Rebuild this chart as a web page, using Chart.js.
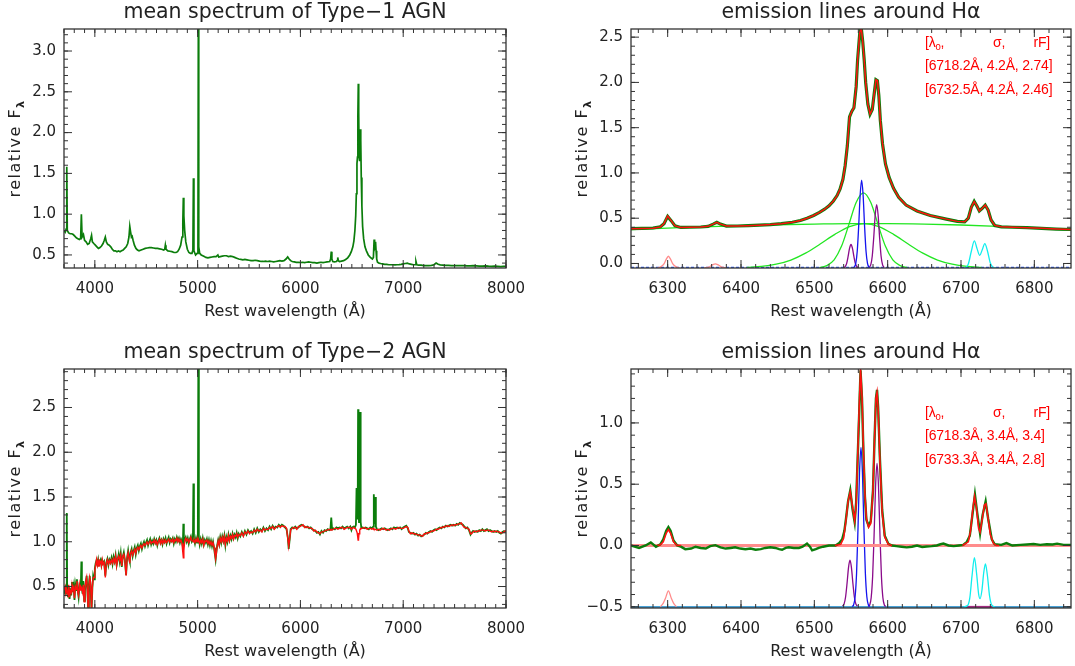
<!DOCTYPE html>
<html>
<head>
<meta charset="utf-8">
<script src="https://cdn.jsdelivr.net/npm/chart.js@4.4.1/dist/chart.umd.min.js"></script>
<style>
  body { margin: 0; background: #fff; }
  #wrap { position: relative; width: 1075px; height: 666px; }
  canvas { position: absolute; }
</style>
</head>
<body>
<div id="wrap">
  <canvas id="type1" width="537" height="335" style="left:0;top:0"></canvas>
  <canvas id="ha1" width="538" height="335" style="left:537px;top:0"></canvas>
  <canvas id="type2" width="537" height="331" style="left:0;top:335px"></canvas>
  <canvas id="ha2" width="538" height="331" style="left:537px;top:335px"></canvas>
</div>
<script>
// ---- axis ticks ----
const wideTicks = [4000, 5000, 6000, 7000, 8000];
const haTicks = [6300, 6400, 6500, 6600, 6700, 6800];
const type1YTicks = [0.5, 1.0, 1.5, 2.0, 2.5, 3.0];
const type2YTicks = [0.5, 1.0, 1.5, 2.0, 2.5];
const ha1YTicks = [0.0, 0.5, 1.0, 1.5, 2.0, 2.5];
const ha2YTicks = [-0.5, 0.0, 0.5, 1.0];

// ---- fitted [SII] doublet parameters ----
const sii1 = [["6718.2Å", "4.2Å", "2.74"], ["6732.5Å", "4.2Å", "2.46"]];
const sii2 = [["6718.3Å", "3.4Å", "3.4"], ["6733.3Å", "3.4Å", "2.8"]];

// ---- Type-1 mean spectrum [wavelength, flux] ----
const type1Mean = [
  [3700,0.80],[3712,0.78],[3722,0.82],[3727,1.58],[3732,0.80],[3745,0.77],[3760,0.76],[3775,0.76],
  [3790,0.75],[3805,0.73],[3820,0.71],[3835,0.70],[3850,0.69],[3862,0.70],[3869,1.00],[3876,0.72],
  [3889,0.75],[3900,0.68],[3915,0.66],[3930,0.63],[3945,0.64],[3960,0.70],[3968,0.74],[3976,0.66],
  [3990,0.64],[4005,0.62],[4020,0.60],[4035,0.58],[4050,0.59],[4065,0.61],[4080,0.64],[4092,0.68],
  [4102,0.72],[4112,0.66],[4125,0.63],[4140,0.62],[4155,0.60],[4170,0.57],[4185,0.55],[4200,0.55],
  [4215,0.54],[4230,0.55],[4245,0.54],[4260,0.55],[4275,0.56],[4290,0.58],[4305,0.60],[4320,0.64],
  [4332,0.72],[4340,0.85],[4348,0.78],[4356,0.72],[4363,0.73],[4372,0.68],[4385,0.62],[4400,0.58],
  [4415,0.56],[4430,0.55],[4450,0.56],[4470,0.57],[4490,0.58],[4510,0.585],[4530,0.59],[4550,0.59],
  [4570,0.585],[4590,0.58],[4610,0.58],[4630,0.575],[4650,0.57],[4670,0.56],[4680,0.57],[4686,0.62],
  [4692,0.57],[4710,0.55],[4730,0.545],[4750,0.54],[4770,0.53],[4790,0.53],[4805,0.54],[4820,0.57],
  [4835,0.62],[4848,0.72],[4856,0.90],[4861,1.20],[4866,0.98],[4874,0.80],[4885,0.66],[4900,0.57],
  [4915,0.53],[4930,0.52],[4945,0.52],[4954,0.56],[4959,1.44],[4964,0.55],[4980,0.50],[4995,0.52],
  [5003,0.60],[5007,3.40],[5011,0.60],[5020,0.52],[5035,0.50],[5050,0.49],[5065,0.48],[5080,0.47],
  [5100,0.465],[5120,0.47],[5140,0.475],[5160,0.48],[5180,0.48],[5197,0.50],[5205,0.475],[5220,0.48],
  [5240,0.485],[5260,0.49],[5280,0.49],[5300,0.48],[5320,0.485],[5340,0.48],[5360,0.47],[5380,0.46],
  [5400,0.45],[5420,0.445],[5440,0.44],[5460,0.445],[5480,0.44],[5500,0.435],[5520,0.43],[5540,0.43],
  [5560,0.435],[5580,0.43],[5600,0.425],[5620,0.42],[5640,0.42],[5660,0.425],[5680,0.42],[5700,0.425],
  [5720,0.42],[5740,0.415],[5760,0.42],[5780,0.425],[5800,0.43],[5820,0.425],[5840,0.43],[5860,0.45],
  [5876,0.475],[5890,0.45],[5905,0.43],[5920,0.42],[5940,0.415],[5960,0.41],[5980,0.41],[6000,0.405],
  [6020,0.41],[6040,0.405],[6060,0.41],[6080,0.415],[6100,0.41],[6120,0.405],[6140,0.405],[6160,0.40],
  [6180,0.405],[6200,0.41],[6220,0.405],[6240,0.41],[6260,0.415],[6285,0.42],[6294,0.45],[6300,0.54],
  [6306,0.45],[6315,0.42],[6330,0.415],[6350,0.42],[6357,0.43],[6363,0.47],[6369,0.43],[6380,0.42],
  [6400,0.425],[6420,0.43],[6440,0.445],[6460,0.465],[6480,0.50],[6495,0.54],[6510,0.60],[6520,0.67],
  [6530,0.80],[6538,0.98],[6544,1.25],[6550,1.62],[6555,1.70],[6559,2.20],[6563,2.60],[6567,2.25],
  [6571,1.70],[6574,1.65],[6578,1.85],[6583,2.04],[6587,1.90],[6592,1.45],[6598,1.10],[6605,0.85],
  [6615,0.70],[6628,0.60],[6642,0.55],[6660,0.50],[6680,0.47],[6700,0.45],[6710,0.47],[6717,0.69],
  [6722,0.58],[6727,0.60],[6731,0.66],[6736,0.55],[6742,0.45],[6750,0.41],[6765,0.40],[6780,0.395],
  [6800,0.39],[6820,0.385],[6840,0.385],[6860,0.38],[6880,0.38],[6900,0.38],[6920,0.378],[6940,0.38],
  [6960,0.382],[6980,0.385],[7000,0.39],[7020,0.395],[7040,0.40],[7060,0.39],[7080,0.385],[7100,0.38],
  [7116,0.38],[7124,0.42],[7132,0.38],[7150,0.375],[7175,0.375],[7200,0.37],[7225,0.37],[7250,0.37],
  [7275,0.372],[7300,0.38],[7320,0.40],[7340,0.385],[7360,0.378],[7385,0.375],[7410,0.372],[7440,0.372],
  [7470,0.37],[7500,0.37],[7530,0.368],[7560,0.37],[7590,0.368],[7620,0.365],[7650,0.366],[7680,0.368],
  [7710,0.365],[7740,0.362],[7770,0.363],[7800,0.365],[7830,0.362],[7860,0.36],[7890,0.362],[7920,0.36],
  [7950,0.358],[7975,0.36],[8000,0.36]
];

// ---- Type-2 mean spectrum [wavelength, observed, stellar model] ----
const type2Mean = [
  [3700,0.50,0.46],[3710,0.42,0.50],[3718,0.52,0.44],[3724,0.48,0.47],[3727,1.32,0.45],[3731,0.45,0.42],
  [3738,0.38,0.40],[3746,0.50,0.52],[3754,0.36,0.38],[3762,0.48,0.45],[3770,0.40,0.43],[3778,0.55,0.52],
  [3786,0.44,0.46],[3794,0.50,0.48],[3802,0.35,0.37],[3810,0.52,0.50],[3818,0.46,0.47],[3826,0.58,0.56],
  [3834,0.45,0.44],[3842,0.38,0.40],[3850,0.50,0.52],[3858,0.47,0.46],[3864,0.52,0.50],[3869,0.78,0.49],
  [3874,0.50,0.48],[3880,0.42,0.44],[3888,0.56,0.52],[3896,0.34,0.33],[3904,0.45,0.48],[3912,0.55,0.56],
  [3920,0.62,0.60],[3928,0.45,0.44],[3934,0.26,0.27],[3942,0.52,0.50],[3950,0.62,0.60],[3958,0.50,0.55],
  [3968,0.22,0.24],[3976,0.48,0.50],[3984,0.62,0.60],[3992,0.58,0.60],[4000,0.70,0.68],[4008,0.76,0.74],
  [4016,0.79,0.80],[4024,0.75,0.74],[4032,0.80,0.79],[4040,0.73,0.72],[4048,0.78,0.79],[4056,0.80,0.78],
  [4064,0.74,0.73],[4072,0.79,0.80],[4080,0.76,0.75],[4090,0.78,0.77],[4102,0.62,0.60],[4112,0.77,0.76],
  [4122,0.81,0.80],[4132,0.74,0.75],[4142,0.80,0.79],[4152,0.77,0.76],[4162,0.82,0.80],[4172,0.75,0.76],
  [4182,0.83,0.81],[4192,0.78,0.77],[4202,0.85,0.84],[4212,0.74,0.73],[4222,0.80,0.81],[4232,0.86,0.84],
  [4242,0.78,0.79],[4252,0.87,0.85],[4262,0.72,0.73],[4272,0.83,0.84],[4282,0.88,0.86],[4292,0.80,0.79],
  [4304,0.63,0.62],[4314,0.82,0.83],[4324,0.90,0.88],[4334,0.81,0.80],[4340,0.78,0.76],[4348,0.88,0.87],
  [4358,0.92,0.90],[4368,0.84,0.85],[4378,0.90,0.89],[4388,0.94,0.92],[4398,0.86,0.87],[4408,0.93,0.92],
  [4418,0.96,0.94],[4428,0.90,0.91],[4438,0.95,0.94],[4448,0.98,0.96],[4458,0.92,0.93],[4468,0.97,0.96],
  [4478,1.00,0.98],[4488,0.95,0.96],[4498,0.99,0.98],[4508,1.02,1.00],[4518,0.96,0.97],[4528,1.00,0.99],
  [4538,1.03,1.01],[4548,0.97,0.98],[4558,1.01,1.00],[4568,0.98,0.99],[4578,1.03,1.02],[4588,0.99,0.98],
  [4598,1.02,1.01],[4608,0.96,0.97],[4618,1.01,1.00],[4628,1.04,1.03],[4638,0.99,0.98],[4648,1.02,1.02],
  [4658,0.97,0.98],[4668,1.03,1.02],[4678,1.00,0.99],[4688,1.04,1.02],[4698,0.98,0.99],[4708,1.02,1.01],
  [4718,1.05,1.03],[4728,0.99,1.00],[4738,1.03,1.02],[4748,1.01,1.00],[4758,1.04,1.03],[4768,0.98,0.99],
  [4778,1.03,1.02],[4788,1.00,1.01],[4798,1.05,1.04],[4808,1.01,1.00],[4818,1.04,1.03],[4828,0.99,1.00],
  [4838,1.03,1.02],[4848,1.00,0.98],[4856,0.95,0.88],[4861,1.20,0.82],[4866,0.95,0.90],[4874,1.02,1.01],
  [4884,1.05,1.04],[4894,1.00,1.01],[4904,1.04,1.03],[4914,0.98,0.99],[4924,1.03,1.02],[4934,1.06,1.05],
  [4944,1.00,1.01],[4954,1.02,1.01],[4959,1.65,1.00],[4964,1.03,1.02],[4974,0.98,0.99],[4984,1.04,1.03],
  [4994,0.99,1.00],[5002,1.05,1.02],[5007,3.10,1.00],[5012,1.04,1.01],[5020,0.97,0.98],[5030,1.03,1.02],
  [5040,0.98,0.99],[5050,1.04,1.03],[5060,0.97,0.96],[5070,1.02,1.01],[5080,0.99,1.00],[5090,1.03,1.02],
  [5100,0.97,0.98],[5110,1.02,1.01],[5120,0.96,0.97],[5130,1.01,1.00],[5140,0.95,0.96],[5150,1.00,0.99],
  [5160,0.93,0.94],[5168,0.86,0.87],[5175,0.80,0.81],[5182,0.88,0.87],[5190,0.96,0.95],[5200,1.02,1.01],
  [5210,0.97,0.96],[5220,1.05,1.04],[5230,0.99,1.00],[5240,1.06,1.05],[5250,1.01,1.00],[5260,1.07,1.06],
  [5270,0.96,0.97],[5280,1.05,1.04],[5290,1.00,1.01],[5300,1.08,1.07],[5310,1.02,1.01],[5320,1.07,1.06],
  [5330,1.03,1.04],[5340,1.09,1.08],[5350,1.04,1.03],[5360,1.08,1.07],[5370,1.05,1.06],[5380,1.10,1.09],
  [5390,1.04,1.05],[5400,1.09,1.08],[5415,1.06,1.07],[5430,1.11,1.10],[5445,1.07,1.06],[5460,1.12,1.11],
  [5475,1.08,1.09],[5490,1.13,1.12],[5505,1.10,1.09],[5520,1.12,1.11],[5535,1.09,1.10],[5550,1.14,1.13],
  [5565,1.10,1.11],[5580,1.15,1.14],[5595,1.11,1.12],[5610,1.14,1.13],[5625,1.12,1.11],[5640,1.16,1.15],
  [5655,1.12,1.13],[5670,1.15,1.14],[5685,1.13,1.14],[5700,1.17,1.16],[5715,1.14,1.15],[5730,1.18,1.17],
  [5745,1.15,1.14],[5760,1.17,1.16],[5775,1.16,1.17],[5790,1.19,1.18],[5805,1.17,1.16],[5820,1.19,1.18],
  [5835,1.18,1.17],[5850,1.16,1.17],[5865,1.14,1.15],[5877,1.05,1.04],[5886,0.92,0.95],[5895,1.02,1.03],
  [5905,1.14,1.13],[5920,1.16,1.15],[5935,1.15,1.16],[5950,1.17,1.16],[5965,1.15,1.14],[5980,1.16,1.17],
  [5995,1.18,1.17],[6010,1.19,1.18],[6025,1.18,1.19],[6040,1.17,1.16],[6055,1.16,1.17],[6070,1.17,1.16],
  [6085,1.15,1.16],[6100,1.16,1.15],[6115,1.14,1.15],[6130,1.13,1.12],[6145,1.12,1.13],[6160,1.10,1.11],
  [6175,1.11,1.10],[6190,1.08,1.09],[6205,1.12,1.11],[6220,1.10,1.11],[6235,1.13,1.12],[6250,1.12,1.13],
  [6265,1.14,1.13],[6280,1.13,1.14],[6292,1.14,1.13],[6300,1.27,1.14],[6308,1.14,1.13],[6320,1.15,1.14],
  [6335,1.14,1.15],[6350,1.16,1.15],[6365,1.15,1.14],[6380,1.16,1.15],[6395,1.15,1.16],[6410,1.17,1.16],
  [6425,1.15,1.14],[6440,1.16,1.15],[6455,1.17,1.16],[6470,1.15,1.16],[6485,1.17,1.16],[6496,1.13,1.14],
  [6505,1.16,1.15],[6518,1.17,1.16],[6530,1.16,1.15],[6540,1.19,1.14],[6546,1.60,1.12],[6552,1.30,1.10],
  [6557,1.25,1.06],[6561,2.48,1.02],[6565,1.35,1.03],[6570,1.22,1.09],[6577,1.30,1.13],[6581,2.45,1.14],
  [6586,1.22,1.15],[6592,1.16,1.15],[6605,1.16,1.15],[6620,1.15,1.16],[6635,1.16,1.15],[6650,1.15,1.14],
  [6665,1.14,1.15],[6680,1.16,1.15],[6695,1.15,1.14],[6708,1.17,1.15],[6714,1.53,1.14],[6720,1.20,1.14],
  [6727,1.50,1.14],[6734,1.17,1.14],[6745,1.14,1.13],[6760,1.13,1.14],[6775,1.14,1.13],[6790,1.15,1.14],
  [6805,1.14,1.15],[6820,1.15,1.14],[6835,1.14,1.13],[6850,1.13,1.14],[6865,1.14,1.13],[6880,1.15,1.14],
  [6895,1.14,1.15],[6910,1.16,1.15],[6925,1.15,1.14],[6940,1.16,1.15],[6955,1.15,1.16],[6970,1.16,1.15],
  [6985,1.14,1.15],[7000,1.16,1.15],[7015,1.17,1.16],[7030,1.18,1.17],[7045,1.15,1.16],[7055,1.11,1.12],
  [7070,1.10,1.09],[7085,1.09,1.10],[7100,1.10,1.09],[7115,1.08,1.09],[7130,1.09,1.08],[7145,1.07,1.08],
  [7160,1.08,1.07],[7175,1.06,1.07],[7190,1.07,1.06],[7205,1.08,1.09],[7220,1.10,1.09],[7235,1.09,1.10],
  [7250,1.11,1.10],[7265,1.12,1.11],[7280,1.11,1.12],[7295,1.13,1.12],[7310,1.14,1.13],[7325,1.13,1.14],
  [7340,1.15,1.14],[7355,1.16,1.15],[7370,1.15,1.16],[7385,1.17,1.16],[7400,1.16,1.17],[7415,1.18,1.17],
  [7430,1.17,1.18],[7445,1.18,1.17],[7460,1.19,1.18],[7475,1.18,1.19],[7490,1.19,1.18],[7505,1.18,1.19],
  [7520,1.20,1.19],[7535,1.19,1.20],[7550,1.21,1.20],[7565,1.20,1.21],[7580,1.19,1.18],[7595,1.17,1.16],
  [7610,1.15,1.16],[7625,1.16,1.15],[7640,1.13,1.14],[7655,1.08,1.09],[7665,1.10,1.09],[7680,1.12,1.11],
  [7695,1.11,1.12],[7710,1.12,1.11],[7725,1.11,1.12],[7740,1.13,1.12],[7755,1.12,1.13],[7770,1.14,1.13],
  [7785,1.12,1.13],[7800,1.13,1.12],[7815,1.14,1.13],[7830,1.12,1.13],[7845,1.13,1.12],[7860,1.12,1.11],
  [7875,1.11,1.12],[7890,1.12,1.11],[7905,1.11,1.12],[7920,1.12,1.11],[7935,1.10,1.11],[7950,1.09,1.10],
  [7965,1.11,1.10],[7980,1.12,1.11],[7990,1.11,1.12],[8000,1.12,1.12]
];

// ---- Type-1 Halpha region [wavelength, observed, total fit] ----
const ha1Spec = [
  [6250,0.385,0.383],[6265,0.388,0.387],[6280,0.392,0.390],[6290,0.405,0.402],[6295,0.44,0.44],
  [6300,0.52,0.525],[6305,0.47,0.47],[6310,0.415,0.415],[6318,0.398,0.398],[6330,0.40,0.40],
  [6345,0.403,0.403],[6355,0.41,0.41],[6362,0.435,0.435],[6367,0.455,0.455],[6372,0.435,0.435],
  [6380,0.413,0.413],[6395,0.414,0.414],[6410,0.418,0.418],[6425,0.423,0.423],[6440,0.430,0.430],
  [6455,0.440,0.440],[6470,0.455,0.455],[6481,0.475,0.475],[6490,0.50,0.50],[6499,0.53,0.53],
  [6507,0.565,0.565],[6514,0.60,0.60],[6520,0.637,0.637],[6526,0.69,0.69],[6531,0.75,0.75],
  [6535,0.82,0.82],[6539,0.93,0.93],[6542,1.08,1.08],[6545,1.30,1.30],[6548,1.62,1.62],
  [6551,1.68,1.68],[6554,1.72,1.72],[6557,1.95,1.95],[6559,2.25,2.25],[6562,2.55,2.55],
  [6564,2.60,2.60],[6566,2.45,2.45],[6568,2.25,2.25],[6570,2.00,2.00],[6573,1.76,1.76],
  [6576,1.65,1.65],[6579,1.70,1.70],[6582,1.90,1.90],[6584,2.03,2.03],[6586,2.02,2.02],
  [6588,1.85,1.85],[6590,1.58,1.58],[6593,1.32,1.32],[6597,1.10,1.10],[6602,0.95,0.95],
  [6608,0.83,0.83],[6615,0.73,0.73],[6625,0.645,0.645],[6640,0.58,0.58],[6658,0.53,0.53],
  [6680,0.49,0.49],[6695,0.465,0.465],[6705,0.46,0.46],[6710,0.50,0.50],[6714,0.62,0.62],
  [6718,0.685,0.685],[6722,0.63,0.63],[6725,0.58,0.58],[6729,0.61,0.61],[6733,0.645,0.645],
  [6737,0.59,0.59],[6741,0.48,0.48],[6746,0.42,0.42],[6755,0.405,0.405],[6770,0.40,0.40],
  [6790,0.395,0.395],[6810,0.388,0.388],[6830,0.38,0.38],[6850,0.375,0.375]
];

// Type-1 fit components, each [wavelength, flux] (offset baseline -0.05)
const ha1Cont = [[6250,0.375],[6300,0.39],[6350,0.405],[6400,0.418],[6450,0.428],[6500,0.435],[6550,0.44],
  [6600,0.44],[6650,0.435],[6700,0.425],[6750,0.41],[6800,0.39],[6850,0.37]];
const ha1Broad = [[6408,-0.044],[6428,-0.033],[6448,-0.008],[6468,0.038],[6488,0.114],[6508,0.215],[6528,0.322],
  [6548,0.408],[6568,0.44],[6588,0.408],[6608,0.322],[6628,0.215],[6648,0.114],[6668,0.038],[6688,-0.008],
  [6708,-0.033],[6728,-0.044]];
const ha1Inter = [[6507,-0.046],[6517,-0.024],[6527,0.040],[6537,0.189],[6547,0.427],[6557,0.673],[6567,0.78],
  [6577,0.673],[6587,0.427],[6597,0.189],[6607,0.040],[6617,-0.024],[6627,-0.046]];
const ha1Narrow = [[6552.5,-0.05],[6554.5,-0.04],[6556.5,0.001],[6558.5,0.135],[6560.5,0.415],[6562.5,0.757],
  [6564.5,0.92],[6566.5,0.757],[6568.5,0.415],[6570.5,0.135],[6572.5,0.001],[6574.5,-0.04],[6576.5,-0.05]];
const ha1N2a = [[6540,-0.047],[6542,-0.036],[6544,-0.001],[6546,0.075],[6548,0.166],[6550,0.21],[6552,0.166],
  [6554,0.075],[6556,-0.001],[6558,-0.036],[6560,-0.047]];
const ha1N2b = [[6575,-0.043],[6577,-0.013],[6579,0.083],[6581,0.286],[6583,0.532],[6585,0.65],[6587,0.532],
  [6589,0.286],[6591,0.083],[6593,-0.013],[6595,-0.043]];
const ha1S2 = [[6704,-0.05],[6706,-0.045],[6710,-0.005],[6714,0.132],[6718.2,0.25],[6722,0.161],[6725.5,0.09],
  [6729,0.152],[6732.5,0.22],[6736,0.141],[6740,0.005],[6744,-0.044],[6748,-0.05]];
const ha1O1a = [[6286,-0.05],[6291,-0.035],[6295,-0.005],[6298,0.045],[6301,0.08],[6304,0.045],[6307,-0.005],
  [6311,-0.035],[6316,-0.05]];
const ha1O1b = [[6350,-0.05],[6356,-0.04],[6361,-0.016],[6365,-0.004],[6369,-0.016],[6374,-0.04],[6380,-0.05]];
const ha1Base = [[6250,-0.046],[6850,-0.046]];

// ---- Type-2 Halpha region [wavelength, observed] ----
const ha2Obs = [
  [6250,0.00],[6261,-0.02],[6270,0.0],[6277,0.025],[6284,-0.01],[6290,0.01],[6294,0.05],[6298,0.12],
  [6301,0.15],[6304,0.12],[6308,0.04],[6313,0.0],[6318,-0.01],[6324,-0.03],[6332,-0.025],[6338,-0.01],
  [6345,-0.02],[6352,-0.025],[6358,-0.005],[6365,0.003],[6372,-0.015],[6379,-0.025],[6386,-0.02],
  [6392,-0.015],[6399,-0.025],[6406,-0.03],[6413,-0.025],[6420,-0.035],[6427,-0.03],[6433,-0.02],
  [6440,-0.015],[6447,-0.02],[6452,-0.03],[6456,-0.035],[6461,-0.02],[6465,-0.015],[6472,-0.02],
  [6479,-0.02],[6484,-0.01],[6490,0.016],[6494,-0.01],[6497,-0.04],[6502,-0.03],[6506,-0.02],
  [6512,-0.01],[6520,0.0],[6529,0.0],[6534,0.02],[6538,0.05],[6541,0.12],[6543,0.21],[6546,0.36],
  [6549,0.45],[6552,0.30],[6555,0.19],[6557,0.35],[6559,0.70],[6561,1.05],[6563,1.43],[6565,1.20],
  [6567,0.75],[6569,0.40],[6571,0.21],[6574,0.16],[6577,0.20],[6580,0.45],[6582,0.85],[6584,1.20],
  [6585.5,1.27],[6587,1.13],[6589.5,0.70],[6592.5,0.29],[6596,0.08],[6601,0.013],[6606,0.0],
  [6612,-0.005],[6619,-0.01],[6626,-0.015],[6633,-0.01],[6640,0.0],[6647,-0.012],[6653,-0.008],
  [6660,-0.005],[6667,0.0],[6672,0.01],[6676,0.016],[6683,0.0],[6690,-0.005],[6697,0.0],[6703,0.005],
  [6708,0.03],[6712,0.08],[6716,0.27],[6719,0.415],[6722,0.27],[6726,0.10],[6729.5,0.25],[6733.6,0.36],
  [6737,0.22],[6742,0.05],[6746,0.01],[6755,0.005],[6762,0.02],[6770,0.0],[6781,0.005],[6790,0.008],
  [6799,0.012],[6808,0.005],[6817,0.01],[6825,0.008],[6831,0.015],[6840,0.005],[6850,0.005]
];
// total line fit (gaps where only continuum)
const ha2Fit = [
  [6286,0.0],[6290,0.005],[6294,0.03],[6298,0.10],[6301,0.13],[6304,0.10],[6308,0.03],[6313,0.0],[6318,0.0],[6320,null],
  [6528,0.0],[6536,0.01],[6540,0.06],[6543,0.20],[6546,0.36],[6549,0.44],[6552,0.32],[6555,0.20],[6557,0.33],
  [6559,0.70],[6561,1.10],[6563,1.44],[6565,1.22],[6567,0.78],[6569,0.42],[6571,0.22],[6574,0.15],[6577,0.18],
  [6580,0.45],[6582,0.86],[6584,1.20],[6585.5,1.25],[6587,1.12],[6589.5,0.68],[6592.5,0.27],[6596,0.07],
  [6601,0.01],[6606,0.0],[6650,null],
  [6702,0.0],[6710,0.03],[6713,0.12],[6716,0.29],[6718.5,0.40],[6721,0.31],[6724,0.14],[6726,0.11],[6729,0.22],
  [6732,0.33],[6734,0.34],[6737,0.22],[6740,0.09],[6744,0.02],[6748,0.0],[6752,0.0]
];
const ha2Cont = [[6250,0.0],[6850,0.0]];
// Type-2 fit components (offset baseline -0.5)
const ha2O1 = [[6290,-0.50],[6294,-0.47],[6297,-0.43],[6301,-0.37],[6305,-0.43],[6308,-0.47],[6312,-0.50]];
const ha2N2a = [[6538.6,-0.495],[6540.6,-0.476],[6542.6,-0.42],[6544.6,-0.31],[6546.6,-0.18],[6548.6,-0.12],
  [6550.6,-0.18],[6552.6,-0.31],[6554.6,-0.42],[6556.6,-0.476],[6558.6,-0.495]];
const ha2Narrow = [[6551.6,-0.498],[6553.6,-0.483],[6555.6,-0.418],[6557.6,-0.226],[6559.6,0.15],[6561.6,0.593],
  [6563.6,0.80],[6565.6,0.593],[6567.6,0.15],[6569.6,-0.226],[6571.6,-0.418],[6573.6,-0.483],[6575.6,-0.498]];
const ha2N2b = [[6573.5,-0.498],[6575.5,-0.485],[6577.5,-0.426],[6579.5,-0.253],[6581.5,0.085],[6583.5,0.484],
  [6585.5,0.67],[6587.5,0.484],[6589.5,0.085],[6591.5,-0.253],[6593.5,-0.426],[6595.5,-0.485],[6597.5,-0.498]];
const ha2S2 = [[6704,-0.5],[6709,-0.49],[6712,-0.428],[6715,-0.25],[6718.3,-0.10],[6721.5,-0.242],[6724,-0.394],
  [6726,-0.434],[6728.5,-0.367],[6731,-0.222],[6733.3,-0.15],[6736,-0.245],[6739,-0.414],[6742,-0.487],[6746,-0.5]];
const ha2Base = [[6250,-0.505],[6850,-0.505]];
const ha2S2Base = [[6707,-0.505],[6743,-0.505]];

// ---- drawing helpers ----
Chart.defaults.font.family = '"DejaVu Sans", sans-serif';
Chart.defaults.color = '#222';

const GREEN = '#0b7d0b', RED = '#ff1010', LIME = '#22e622', BLUE = '#1414ee',
      PURPLE = '#8a0a8a', CYAN = '#10eeee', PINK = '#ff8c8c';

function series(rows, col, color, width, extra) {
  return Object.assign({
    data: rows.map(r => ({ x: r[0], y: r[col] })),
    borderColor: color, borderWidth: width, pointRadius: 0, fill: false, tension: 0
  }, extra || {});
}
const smooth = { cubicInterpolationMode: 'monotone' };

// box with inward major/minor ticks on all four sides
const boxFrame = {
  id: 'boxFrame',
  afterDatasetsDraw(chart, args, o) {
    const { ctx, chartArea: a, scales: { x, y } } = chart;
    const steps = (scale, step) => {
      const out = [];
      for (let k = Math.ceil(scale.min / step - 1e-6); k * step <= scale.max + 1e-9; k++) out.push(scale.getPixelForValue(k * step));
      return out;
    };
    ctx.save();
    ctx.strokeStyle = '#333';
    ctx.lineWidth = 1;
    ctx.beginPath();
    const xs = [[steps(x, o.xMinor), 4], [x.ticks.map(t => x.getPixelForValue(t.value)), 8]];
    const ys = [[steps(y, o.yMinor), 4], [y.ticks.map(t => y.getPixelForValue(t.value)), 8]];
    xs.forEach(([pxs, len]) => pxs.forEach(px => {
      ctx.moveTo(px, a.bottom); ctx.lineTo(px, a.bottom - len);
      ctx.moveTo(px, a.top); ctx.lineTo(px, a.top + len);
    }));
    ys.forEach(([pys, len]) => pys.forEach(py => {
      ctx.moveTo(a.left, py); ctx.lineTo(a.left + len, py);
      ctx.moveTo(a.right, py); ctx.lineTo(a.right - len, py);
    }));
    ctx.stroke();
    ctx.lineWidth = 1.3;
    ctx.strokeRect(a.left, a.top, a.right - a.left, a.bottom - a.top);
    ctx.restore();
  }
};

// rotated "relative F" with subscript lambda
const yTitle = {
  id: 'yTitle',
  afterDraw(chart) {
    const { ctx, chartArea: a } = chart;
    ctx.save();
    ctx.translate(a.left - 48, (a.top + a.bottom) / 2);
    ctx.rotate(-Math.PI / 2);
    ctx.fillStyle = '#222';
    ctx.textBaseline = 'middle';
    ctx.letterSpacing = '1.5px';
    ctx.font = '16px "DejaVu Sans"';
    const w1 = ctx.measureText('relative F').width;
    ctx.font = 'bold 11px "DejaVu Sans"';
    const w2 = ctx.measureText('λ').width;
    const x0 = -(w1 + w2) / 2;
    ctx.font = '16px "DejaVu Sans"';
    ctx.fillText('relative F', x0, 0);
    ctx.font = 'bold 11px "DejaVu Sans"';
    ctx.fillText('λ', x0 + w1, 5);
    ctx.restore();
  }
};

// red table of the fitted [SII] doublet
const fitNote = {
  id: 'fitNote',
  afterDraw(chart, args, o) {
    if (!o.rows) return;
    const { ctx, chartArea: a } = chart;
    const big = '14px "Liberation Sans"', small = '9.5px "Liberation Sans"';
    const x0 = a.left + 294, x1 = a.left + 419, y0 = a.top + o.top;
    ctx.save();
    ctx.fillStyle = '#ff0000';
    ctx.textBaseline = 'middle';
    ctx.textAlign = 'left';
    ctx.letterSpacing = '-0.2px';
    ctx.font = big;
    ctx.fillText('[λ', x0, y0);
    const w = ctx.measureText('[λ').width;
    ctx.font = small;
    ctx.fillText('0', x0 + w, y0 + 4);
    const w0 = ctx.measureText('0').width;
    ctx.font = big;
    ctx.fillText(',', x0 + w + w0, y0);
    ctx.fillText('σ,', x0 + 68, y0);
    ctx.textAlign = 'right';
    ctx.fillText('rF]', x1, y0);
    ctx.textAlign = 'left';
    o.rows.forEach((r, i) => ctx.fillText('[' + r.join(', ') + ']', x0, y0 + 23.5 * (i + 1)));
    ctx.restore();
  }
};

function panel(id, p) {
  return new Chart(document.getElementById(id), {
    type: 'line',
    data: { datasets: p.datasets },
    options: {
      responsive: false,
      animation: false,
      devicePixelRatio: 1,
      events: [],
      layout: { padding: { left: 0, right: p.padRight, top: 0, bottom: p.padBottom } },
      plugins: {
        legend: { display: false },
        tooltip: { enabled: false },
        title: {
          display: true, text: p.title, fullSize: false, color: '#222',
          font: { size: 20.5, weight: 'normal' },
          padding: { top: p.titleTop, bottom: 4 }
        },
        boxFrame: { xMinor: p.xMinor, yMinor: 0.1 },
        fitNote: p.note || {}
      },
      scales: {
        x: {
          type: 'linear', min: p.xMin, max: p.xMax,
          grid: { display: false, drawTicks: false }, border: { display: false },
          ticks: { autoSkip: false, maxRotation: 0, minRotation: 0, padding: 12, font: { size: 15 }, color: '#222',
                   callback: v => String(v) },
          afterBuildTicks: s => { s.ticks = p.xTicks.map(v => ({ value: v })); },
          afterFit: s => { s.height = 58; s.paddingLeft = 0; s.paddingRight = 0; },
          title: { display: true, text: 'Rest wavelength (Å)', font: { size: 16 }, color: '#222', padding: { top: 0, bottom: 4.4 } }
        },
        y: {
          type: 'linear', min: p.yMin, max: p.yMax,
          grid: { display: false, drawTicks: false }, border: { display: false },
          ticks: { autoSkip: false, padding: 8, font: { size: 15 }, color: '#222',
                   callback: v => v.toFixed(1).replace('-', '−') },
          afterBuildTicks: s => { s.ticks = p.yTicks.map(v => ({ value: v })); },
          afterFit: s => { s.width = p.yWidth; s.paddingTop = 0; s.paddingBottom = 0; }
        }
      }
    },
    plugins: [boxFrame, yTitle, fitNote]
  });
}

panel('type1', {
  title: 'mean spectrum of Type−1 AGN', titleTop: 0.4, padRight: 31, padBottom: 9, yWidth: 64,
  xMin: 3700, xMax: 8000, xTicks: wideTicks, xMinor: 100,
  yMin: 0.34, yMax: 3.27, yTicks: type1YTicks,
  datasets: [series(type1Mean, 1, GREEN, 1.7)]
});

panel('type2', {
  title: 'mean spectrum of Type−2 AGN', titleTop: 5.4, padRight: 31, padBottom: 0, yWidth: 64,
  xMin: 3700, xMax: 8000, xTicks: wideTicks, xMinor: 100,
  yMin: 0.26, yMax: 2.93, yTicks: type2YTicks,
  datasets: [
    series(type2Mean, 2, RED, 1.4),
    series(type2Mean, 1, GREEN, 1.8)
  ]
});

panel('ha1', {
  title: 'emission lines around Hα', titleTop: 0.4, padRight: 4, padBottom: 9, yWidth: 94,
  xMin: 6250, xMax: 6850, xTicks: haTicks, xMinor: 20,
  yMin: -0.05, yMax: 2.59, yTicks: ha1YTicks,
  note: { rows: sii1, top: 14 },
  datasets: [
    series(ha1Spec, 2, RED, 1.5),
    series(ha1Spec, 1, GREEN, 3.2),
    series(ha1Narrow, 1, BLUE, 1.3, smooth),
    series(ha1N2a, 1, PURPLE, 1.3, smooth),
    series(ha1N2b, 1, PURPLE, 1.3, smooth),
    series(ha1S2, 1, CYAN, 1.3, smooth),
    series(ha1O1a, 1, PINK, 1.3, smooth),
    series(ha1O1b, 1, PINK, 1.3, smooth),
    series(ha1Cont, 1, LIME, 1.3, smooth),
    series(ha1Inter, 1, LIME, 1.3, smooth),
    series(ha1Broad, 1, LIME, 1.3, smooth),
    series(ha1Base, 1, '#2a5cff', 2, { borderDash: [3, 2] })
  ]
});

panel('ha2', {
  title: 'emission lines around Hα', titleTop: 5.4, padRight: 4, padBottom: 0, yWidth: 94,
  xMin: 6250, xMax: 6850, xTicks: haTicks, xMinor: 20,
  yMin: -0.51, yMax: 1.44, yTicks: ha2YTicks,
  note: { rows: sii2, top: 44 },
  datasets: [
    series(ha2Fit, 1, RED, 1.6),
    series(ha2Obs, 1, GREEN, 2.4),
    series(ha2Cont, 1, PINK, 3),
    series(ha2Narrow, 1, BLUE, 1.3, smooth),
    series(ha2N2a, 1, PURPLE, 1.3, smooth),
    series(ha2N2b, 1, PURPLE, 1.3, smooth),
    series(ha2S2, 1, CYAN, 1.3, smooth),
    series(ha2O1, 1, PINK, 1.3, smooth),
    series(ha2S2Base, 1, '#a02a80', 3),
    series(ha2Base, 1, '#4aa2d6', 3)
  ]
});
</script>
</body>
</html>
